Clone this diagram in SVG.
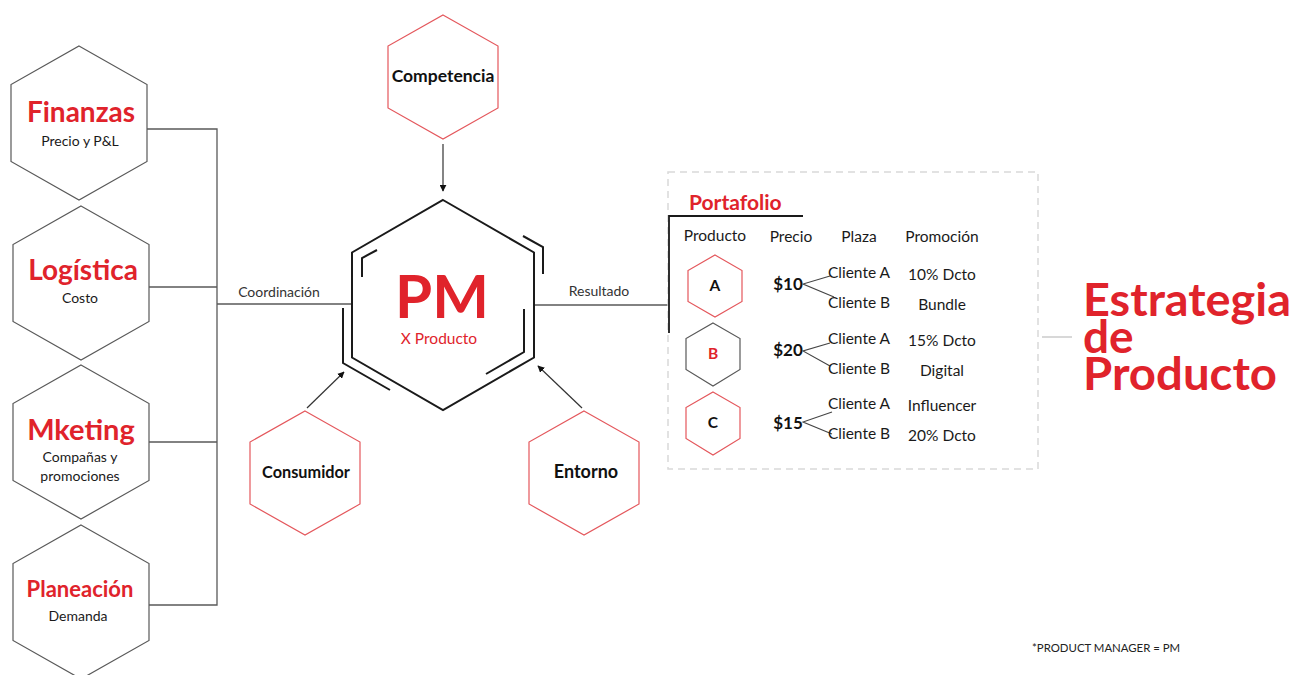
<svg xmlns="http://www.w3.org/2000/svg" width="1296" height="675" viewBox="0 0 1296 675">
  <defs>
    <marker id="arrow" viewBox="0 0 10 10" refX="9" refY="5" markerWidth="7" markerHeight="7" orient="auto" markerUnits="userSpaceOnUse">
      <path d="M0,0 L10,5 L0,10 Z" fill="#111"/>
    </marker>
    <style>
      text { font-family: Lato, "Liberation Sans", sans-serif; }
      .hex-grey { fill: #fff; stroke: #595959; stroke-width: 1.2; }
      .hex-red { fill: #fff; stroke: #e4575c; stroke-width: 1.2; }
      .title { fill: #e0232b; font-weight: bold; text-anchor: middle; }
      .sub { fill: #1a1a1a; font-size: 14px; text-anchor: middle; }
      .dark { fill: #111; font-weight: bold; text-anchor: middle; }
      .cell { fill: #1a1a1a; font-size: 15.5px; text-anchor: middle; }
      .price { fill: #111; font-size: 17px; font-weight: bold; text-anchor: middle; }
      .wire { fill: none; stroke: #595959; stroke-width: 1.3; }
      .arrow { fill: none; stroke: #333; stroke-width: 1.2; marker-end: url(#arrow); }
      .tick { fill: none; stroke: #444; stroke-width: 1.1; }
      .pm { fill: none; stroke: #1a1a1a; stroke-width: 2; }
    </style>
  </defs>

  <rect width="1296" height="675" fill="#fff"/>

  <!-- connectors -->
  <g id="connectors">
    <polyline class="wire" points="147,129 217,129 217,605 149,605"/>
    <line class="wire" x1="149" y1="287" x2="217" y2="287" stroke="#222"/>
    <line class="wire" x1="149" y1="442" x2="217" y2="442"/>
    <line class="wire" x1="217" y1="304" x2="352" y2="304"/>
    <text x="279" y="297" font-size="14" fill="#333" text-anchor="middle">Coordinación</text>
    <line class="wire" x1="534" y1="305" x2="668" y2="305" stroke="#222"/>
    <text x="599" y="296" font-size="14" fill="#333" text-anchor="middle">Resultado</text>
    <line class="arrow" x1="443" y1="144" x2="443" y2="191"/>
    <line class="arrow" x1="307" y1="408" x2="344" y2="372"/>
    <line class="arrow" x1="582" y1="408" x2="538" y2="366"/>
    <line x1="1042" y1="337" x2="1072" y2="337" stroke="#bfbfbf" stroke-width="1.2"/>
  </g>

  <!-- left column of areas -->
  <g id="finanzas">
    <polygon class="hex-grey" points="79,46 147,84.5 147,161.5 79,200 11,161.5 11,84.5"/>
    <text class="title" x="81" y="122" font-size="28">Finanzas</text>
    <text class="sub" x="80" y="146">Precio y P&amp;L</text>
  </g>
  <g id="logistica">
    <polygon class="hex-grey" points="81,206 149,244.5 149,321.5 81,360 13,321.5 13,244.5"/>
    <text class="title" x="83" y="280" font-size="28">Logística</text>
    <text class="sub" x="80" y="303">Costo</text>
  </g>
  <g id="mketing">
    <polygon class="hex-grey" points="81,365 149,403.5 149,480.5 81,519 13,480.5 13,403.5"/>
    <text class="title" x="81" y="440" font-size="29">Mketing</text>
    <text class="sub" x="80" y="462">Compañas y</text>
    <text class="sub" x="80" y="481">promociones</text>
  </g>
  <g id="planeacion">
    <polygon class="hex-grey" points="81,525 149,563.5 149,640.5 81,679 13,640.5 13,563.5"/>
    <text class="title" x="80" y="597" font-size="22">Planeación</text>
    <text class="sub" x="78" y="621">Demanda</text>
  </g>

  <!-- central product manager -->
  <g id="pm">
    <polygon class="pm" points="443,200 534,252.5 534,357.5 443,410 352,357.5 352,252.5" fill="#fff"/>
    <polyline class="pm" points="377,250 362,258 362,277"/>
    <polyline class="pm" points="523,236 543,247 543,274"/>
    <polyline class="pm" points="524,309 524,352 486,374"/>
    <polyline class="pm" points="343,308 343,363 390,390"/>
    <text class="title" x="442" y="318" font-size="60">PM</text>
    <text x="439" y="344" font-size="15.5" fill="#e0232b" text-anchor="middle">X Producto</text>
  </g>

  <!-- surrounding forces -->
  <g id="competencia">
    <polygon class="hex-red" points="443,15 498,46 498,108 443,139 388,108 388,46"/>
    <text class="dark" x="443" y="82" font-size="17.5">Competencia</text>
  </g>
  <g id="consumidor">
    <polygon class="hex-red" points="305,411 360,442 360,504 305,535 250,504 250,442"/>
    <text class="dark" x="306" y="478" font-size="16.3">Consumidor</text>
  </g>
  <g id="entorno">
    <polygon class="hex-red" points="584,411 639,442 639,504 584,535 529,504 529,442"/>
    <text class="dark" x="586" y="478" font-size="18">Entorno</text>
  </g>

  <!-- portfolio table -->
  <g id="portafolio">
    <rect x="668" y="172" width="370" height="297" fill="none" stroke="#d9d9d9" stroke-width="1.5" stroke-dasharray="7,5"/>
    <polyline points="803,216 669,216 669,333" fill="none" stroke="#1a1a1a" stroke-width="1.8"/>
    <text x="689" y="210" font-size="21" font-weight="bold" fill="#e0232b">Portafolio</text>
    <text class="cell" x="715" y="241">Producto</text>
    <text class="cell" x="791" y="242">Precio</text>
    <text class="cell" x="859" y="242">Plaza</text>
    <text class="cell" x="942" y="242">Promoción</text>
  </g>

  <g id="producto-a">
    <polygon class="hex-red" points="715,255 742,270.5 742,301.5 715,317 688,301.5 688,270.5"/>
    <text class="dark" x="715" y="291" font-size="15.5">A</text>
    <text class="price" x="788" y="290">$10</text>
    <polyline class="tick" points="830,276 803,284 834,297"/>
    <text class="cell" x="859" y="278">Cliente A</text>
    <text class="cell" x="859" y="308">Cliente B</text>
    <text class="cell" x="942" y="280">10% Dcto</text>
    <text class="cell" x="942" y="310">Bundle</text>
  </g>
  <g id="producto-b">
    <polygon class="hex-grey" points="713,323 740,338.5 740,369.5 713,386 686,369.5 686,338.5"/>
    <text class="title" x="713" y="359" font-size="15.5">B</text>
    <text class="price" x="788" y="356">$20</text>
    <polyline class="tick" points="830,343 803,351 830,366"/>
    <text class="cell" x="859" y="344">Cliente A</text>
    <text class="cell" x="859" y="374">Cliente B</text>
    <text class="cell" x="942" y="346">15% Dcto</text>
    <text class="cell" x="942" y="376">Digital</text>
  </g>
  <g id="producto-c">
    <polygon class="hex-red" points="713,392 740,407.5 740,438.5 713,455 686,438.5 686,407.5"/>
    <text class="dark" x="713" y="428" font-size="15.5">C</text>
    <text class="price" x="788" y="429">$15</text>
    <polyline class="tick" points="832,412 803,422 832,434"/>
    <text class="cell" x="859" y="409">Cliente A</text>
    <text class="cell" x="859" y="439">Cliente B</text>
    <text class="cell" x="942" y="411">Influencer</text>
    <text class="cell" x="942" y="441">20% Dcto</text>
  </g>

  <!-- outcome -->
  <g id="estrategia">
    <text x="1083" y="316" font-size="46" font-weight="bold" fill="#e0232b" textLength="208" lengthAdjust="spacingAndGlyphs">Estrategia</text>
    <text x="1083" y="353" font-size="46" font-weight="bold" fill="#e0232b">de</text>
    <text x="1083" y="390" font-size="46" font-weight="bold" fill="#e0232b" textLength="194" lengthAdjust="spacingAndGlyphs">Producto</text>
  </g>

  <text x="1032" y="652" font-size="11.4" fill="#222">*PRODUCT MANAGER = PM</text>
</svg>
